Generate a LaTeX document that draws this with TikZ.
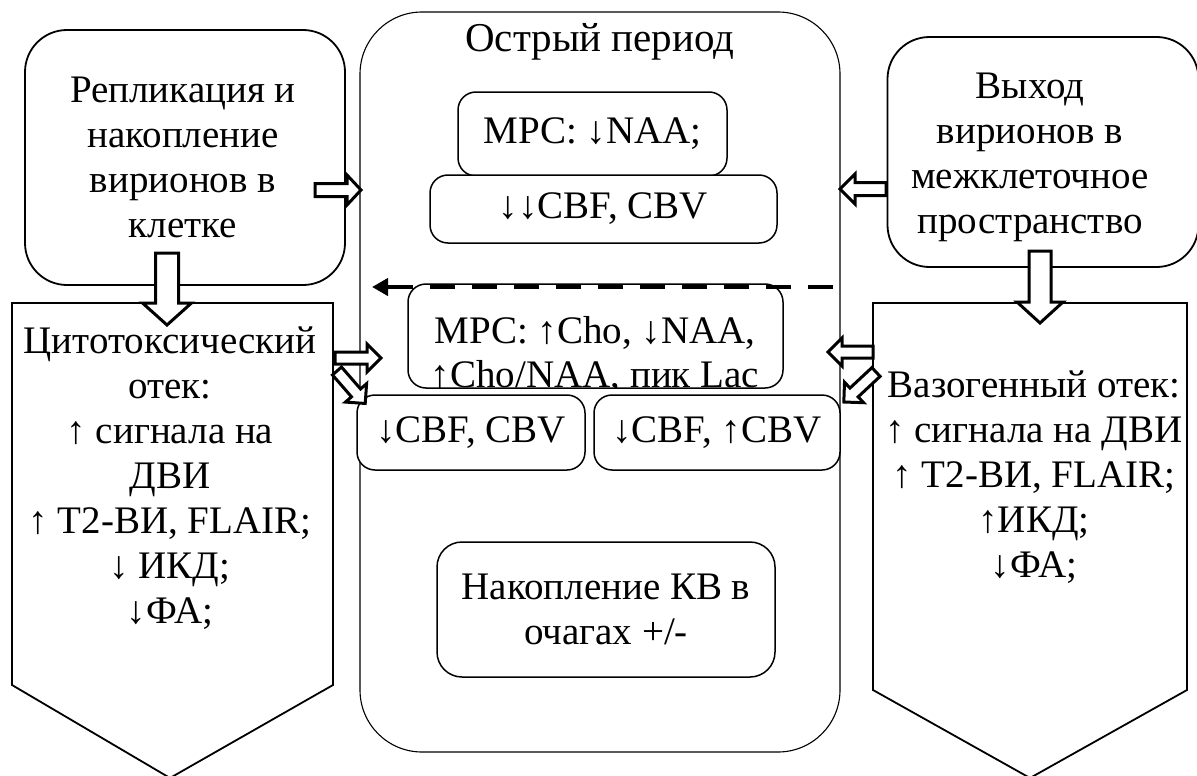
\documentclass[tikz,border=0pt]{standalone}
\usepackage{fontspec}
\setmainfont{Liberation Serif}
\usetikzlibrary{arrows.meta}

% hollow block arrow: tail x, tail y, angle, length, shaft half-width, head half-width, head length
\newcommand\fatarrow[7]{%
  \draw[fat, shift={(#1,#2)}, rotate=#3]
    (0,-#5) -- ({#4-#7},-#5) -- ({#4-#7},-#6) -- (#4,0) -- ({#4-#7},#6) -- ({#4-#7},#5) -- (0,#5) -- cycle;}

\begin{document}
\begin{tikzpicture}[x=1pt,y=-1pt,
  every node/.style={font=\fontsize{39}{45}\selectfont, align=center, inner sep=0pt},
  sidebox/.style={draw, line width=1.8pt, rounded corners=42pt, fill=white},
  period/.style={draw, line width=1.1pt, rounded corners=62pt},
  inbox/.style={draw, line width=1.5pt, rounded corners=18pt, fill=white},
  pent/.style={draw, line width=1.8pt, fill=white, line join=miter},
  fat/.style={draw, line width=3pt, fill=white, line join=miter},
  dashline/.style={line width=4.5pt, dash pattern=on 25pt off 17pt, -{Triangle[length=16pt,width=17pt]}}
]
\useasboundingbox (0,0) rectangle (1197,776);

% acute period frame
\node[period, minimum width=480pt, minimum height=740pt] (acute) at (600,382) {};
\node[font=\fontsize{41}{45}\selectfont] (acutetitle) at (600,42) {Острый период};

% side pentagons
\draw[pent] (12,303) -- (333,303) -- (333,685) -- (170,778) -- (12,685) -- cycle;
\node (cyto) at (170,478) {Цитотоксический\\отек:\\↑ сигнала на\\ДВИ\\↑ T2-ВИ, FLAIR;\\↓ ИКД;\\↓ФА;};
\draw[pent] (873,303) -- (1187,303) -- (1187,690) -- (1030,778) -- (873,690) -- cycle;
\node (vaso) at (1034,477) {Вазогенный отек:\\↑ сигнала на ДВИ\\↑ T2-ВИ, FLAIR;\\↑ИКД;\\↓ФА;};

% top side boxes
\node[sidebox, minimum width=320pt, minimum height=255pt] (replbox) at (185,157.5) {};
\node (repl) at (183,157) {Репликация и\\накопление\\вирионов в\\клетке};
\node[sidebox, minimum width=311pt, minimum height=230pt] (exitbox) at (1043,152) {};
\node (exit) at (1030,157) {Выход\\вирионов в\\межклеточное\\пространство};

% inner boxes
\node[inbox, minimum width=269pt, minimum height=84pt] (mrs1) at (592.5,134) {МРС: ↓NAA;};
\node[inbox, minimum width=347pt, minimum height=68pt] (cbf0) at (603.5,209) {↓↓CBF, CBV};

\node[inbox, minimum width=375pt, minimum height=104pt] (mrs2) at (595.5,336) {};
\begin{scope}
  \clip[rounded corners=18pt] (mrs2.south west) rectangle (mrs2.north east);
  \node[font=\fontsize{39}{44}\selectfont] (mrs2txt) at (595,355) {МРС: ↑Cho, ↓NAA,\\↑Cho/NAA, пик Lac};
\end{scope}

\node[inbox, minimum width=228pt, minimum height=75pt] (cbfl) at (471,432.5) {↓CBF, CBV};
\node[inbox, minimum width=246pt, minimum height=75pt] (cbfr) at (717,432.5) {↓CBF, ↑CBV};
\node[inbox, rounded corners=25pt, minimum width=338pt, minimum height=135pt] (nak) at (606,609.5) {Накопление КВ в\\очагах +/-};

% dashed arrow
\coordinate (dstart) at (833,287);
\coordinate (dend) at (372,287);
\draw[dashline] (dstart) -- (dend);

% block arrows
\fatarrow{315}{190}{0}{46}{6.5}{15}{14}
\fatarrow{886}{189}{180}{46}{6.5}{15}{15}
\fatarrow{335}{358}{0}{46}{6}{14}{14}
\fatarrow{337}{371}{-49}{43}{6}{14}{14}
\fatarrow{873}{352}{180}{45}{6}{14}{14}
\fatarrow{876}{372}{-137}{44}{6}{14}{14}
\fatarrow{167}{253}{-90}{72}{11.5}{24.5}{22}
\fatarrow{1040}{251}{-90}{72}{11}{23}{21}
\end{tikzpicture}
\end{document}
